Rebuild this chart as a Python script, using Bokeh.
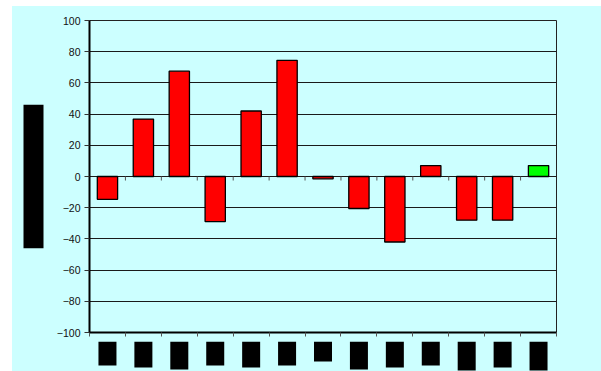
from bokeh.plotting import figure
from bokeh.layouts import row, column
from bokeh.models import Range1d, FixedTicker, ColumnDataSource
from bokeh.embed import file_html
from bokeh.resources import INLINE

# Values per category (13 categories, last one highlighted)
values = [-14.6, 36.8, 67.5, -28.9, 42, 74.5, -1.5, -20.5, -42, 7, -28, -28, 7]
colors = ["#FF0000"] * 12 + ["#00FF00"]
y_ticks = [-100, -80, -60, -40, -20, 0, 20, 40, 60, 80, 100]
# Lengths (px) of the vertical category label blocks under the axis
label_lengths = [24, 26, 28, 24, 26, 24, 20, 28, 26, 24, 29, 26, 29]

n = len(values)
FRAME_W, FRAME_H = 467, 312
Y_MIN, Y_MAX = -100, 100
px_x = FRAME_W / n                 # px per category
px_y = FRAME_H / (Y_MAX - Y_MIN)   # px per unit

BG = "#CCFFFF"
FONT = "Liberation Sans"
LEFT_W = 40          # strip holding the axis title block
BORDER_L, BORDER_R, BORDER_T, BORDER_B = 37, 45, 14, 9
STRIP_H = 30         # strip holding the category label blocks

x_range = Range1d(0, n)
y_range = Range1d(Y_MIN, Y_MAX)

p = figure(
    frame_width=FRAME_W, frame_height=FRAME_H,
    min_border_left=BORDER_L, min_border_top=BORDER_T,
    min_border_right=BORDER_R, min_border_bottom=BORDER_B,
    x_range=x_range, y_range=y_range,
    output_backend="svg", toolbar_location=None,
    background_fill_color=BG, border_fill_color=BG,
)
p.outline_line_color = "#222222"
p.outline_line_width = 1

# y axis
p.yaxis.ticker = FixedTicker(ticks=y_ticks)
p.yaxis.axis_line_width = 2
p.yaxis.axis_line_color = "black"
p.yaxis.major_tick_out = 5
p.yaxis.major_tick_in = 0
p.yaxis.major_tick_line_color = "#333333"
p.yaxis.minor_tick_line_color = None
p.yaxis.major_label_text_font = FONT
p.yaxis.major_label_text_font_size = "10.5px"
p.yaxis.major_label_text_color = "#111111"
p.yaxis.major_label_standoff = 4

# x axis: ticks at category boundaries, labels drawn as blocks in the strip below
p.xaxis.ticker = FixedTicker(ticks=list(range(n + 1)))
p.xaxis.axis_line_width = 2
p.xaxis.axis_line_color = "black"
p.xaxis.major_tick_out = 4
p.xaxis.major_tick_in = 0
p.xaxis.major_tick_line_color = "#555555"
p.xaxis.minor_tick_line_color = None
p.xaxis.major_label_text_color = None
p.xaxis.major_label_text_font_size = "1px"
p.xaxis.major_label_standoff = 0

p.xgrid.grid_line_color = None
p.ygrid.ticker = FixedTicker(ticks=y_ticks)
p.ygrid.grid_line_color = "#1a1a1a"
p.ygrid.grid_line_width = 1

src = ColumnDataSource(dict(x=[i + 0.5 for i in range(n)], top=values, color=colors))
p.vbar(x="x", top="top", bottom=0, width=0.565, source=src,
       fill_color="color", line_color="black", line_width=1.3)

# small ticks hanging from the zero line at category boundaries
bx = list(range(1, n))
p.segment(x0=bx, x1=bx, y0=[0] * len(bx), y1=[-4 / px_y] * len(bx),
          line_color="#555555", line_width=1)

# strip with the category label blocks (shares the x scale)
below = figure(
    frame_width=FRAME_W, frame_height=STRIP_H,
    min_border_left=BORDER_L, min_border_right=BORDER_R,
    min_border_top=0, min_border_bottom=0,
    x_range=x_range, y_range=Range1d(-STRIP_H, 0),
    x_axis_location=None, y_axis_location=None,
    output_backend="svg", toolbar_location=None,
    background_fill_color=BG, border_fill_color=BG, outline_line_color=None,
)
below.grid.grid_line_color = None
half_w = 9 / px_x
below.quad(left=[i + 0.5 - half_w for i in range(n)],
           right=[i + 0.5 + half_w for i in range(n)],
           top=[0] * n, bottom=[-L for L in label_lengths],
           fill_color="black", line_color=None)

# strip with the axis title block (shares the y scale)
left = figure(
    frame_width=LEFT_W, frame_height=FRAME_H,
    min_border_left=0, min_border_right=0,
    min_border_top=BORDER_T, min_border_bottom=BORDER_B + STRIP_H,
    x_range=Range1d(0, LEFT_W), y_range=y_range,
    x_axis_location=None, y_axis_location=None,
    output_backend="svg", toolbar_location=None,
    background_fill_color=BG, border_fill_color=BG, outline_line_color=None,
)
left.grid.grid_line_color = None
left.quad(left=[11], right=[31], top=[46], bottom=[-46],
          fill_color="black", line_color=None)

right_col = column(p, below)
right_col.styles = {"background-color": BG}
layout = row(left, right_col)
layout.styles = {"background-color": BG}
layout.margin = (6, 0, 0, 12)

open("out.html", "w").write(file_html(layout, INLINE))
